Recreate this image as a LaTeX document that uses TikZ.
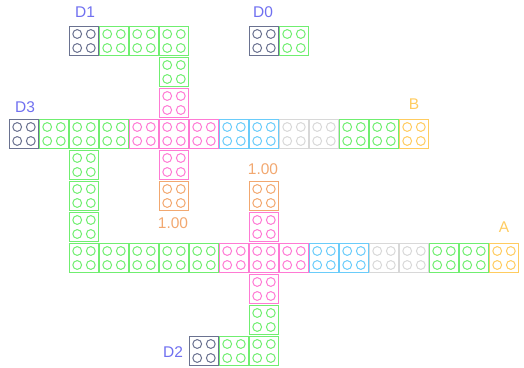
\documentclass[tikz,border=0pt]{standalone}
\usepackage{fontspec}
\setmainfont{Liberation Sans}
\definecolor{cdark}{HTML}{6A7290}
\definecolor{cgrn}{HTML}{70EE70}
\definecolor{cpink}{HTML}{FF7AD4}
\definecolor{cblue}{HTML}{6ACCFA}
\definecolor{cgray}{HTML}{D8D8D8}
\definecolor{corange}{HTML}{F2A870}
\definecolor{cyel}{HTML}{FFCC60}
\definecolor{clab}{HTML}{7070F0}
\tikzset{
  brick/.style={draw=#1, line width=1.2pt, inner sep=0pt,
    minimum width=28.6pt, minimum height=28.6pt,
    path picture={
      \foreach \dx/\dy in {-6.8/7,6.8/7,-6.8/-7,6.8/-7}
        \draw[#1, line width=1pt] ([shift={(\dx,\dy)}]path picture bounding box.center) circle (4.4);
    }},
  lab/.style={font=\fontsize{15.5}{15.5}\selectfont, text=#1, inner sep=0pt}
}
\newcommand{\brk}[3]{\node[brick=#3] (b-#1-#2) at ({24+30*#1},{326-31*#2}) {};}
\begin{document}
\begin{tikzpicture}[x=1pt,y=1pt]
\useasboundingbox (0,0) rectangle (524,367);
% row 0
\brk{2}{0}{cdark}
\brk{3}{0}{cgrn}\brk{4}{0}{cgrn}\brk{5}{0}{cgrn}
\brk{8}{0}{cdark}\brk{9}{0}{cgrn}
% row 1,2
\brk{5}{1}{cgrn}
\brk{5}{2}{cpink}
% row 3
\brk{0}{3}{cdark}
\brk{1}{3}{cgrn}\brk{2}{3}{cgrn}\brk{3}{3}{cgrn}
\brk{4}{3}{cpink}\brk{5}{3}{cpink}\brk{6}{3}{cpink}
\brk{7}{3}{cblue}\brk{8}{3}{cblue}
\brk{9}{3}{cgray}\brk{10}{3}{cgray}
\brk{11}{3}{cgrn}\brk{12}{3}{cgrn}
\brk{13}{3}{cyel}
% rows 4-6
\brk{2}{4}{cgrn}\brk{5}{4}{cpink}
\brk{2}{5}{cgrn}\brk{5}{5}{corange}\brk{8}{5}{corange}
\brk{2}{6}{cgrn}\brk{8}{6}{cpink}
% row 7
\brk{2}{7}{cgrn}\brk{3}{7}{cgrn}\brk{4}{7}{cgrn}\brk{5}{7}{cgrn}\brk{6}{7}{cgrn}
\brk{7}{7}{cpink}\brk{8}{7}{cpink}\brk{9}{7}{cpink}
\brk{10}{7}{cblue}\brk{11}{7}{cblue}
\brk{12}{7}{cgray}\brk{13}{7}{cgray}
\brk{14}{7}{cgrn}\brk{15}{7}{cgrn}
\brk{16}{7}{cyel}
% rows 8-10
\brk{8}{8}{cpink}
\brk{8}{9}{cgrn}
\brk{6}{10}{cdark}\brk{7}{10}{cgrn}\brk{8}{10}{cgrn}
% labels
\node[lab=clab] (lD1) at (85,{367-12.5}) {D1};
\node[lab=clab] (lD0) at (263,{367-12.5}) {D0};
\node[lab=clab] (lD3) at (25,{367-107}) {D3};
\node[lab=clab] (lD2) at (173,{367-352}) {D2};
\node[lab=cyel] (lB) at (414,{367-104.5}) {B};
\node[lab=cyel] (lA) at (504,{367-227.5}) {A};
\node[lab=corange] (l1) at (173,{367-223}) {1.00};
\node[lab=corange] (l2) at (263,{367-169}) {1.00};
\end{tikzpicture}
\end{document}
